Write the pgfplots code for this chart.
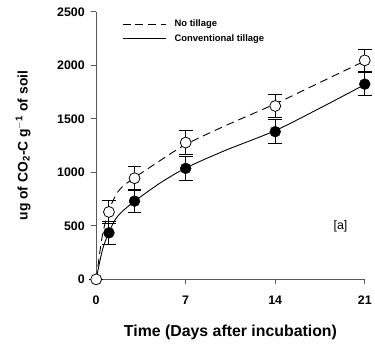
\documentclass[border=0pt]{standalone}
\usepackage{pgfplots}
\pgfplotsset{compat=1.18}
\usepackage{fontspec}
\setmainfont{Liberation Sans}
\begin{document}
\begin{tikzpicture}
\begin{axis}[
  scale only axis,
  width=271pt, height=270pt,
  xmin=0, xmax=21, ymin=0, ymax=2500,
  axis x line*=bottom, axis y line*=left,
  axis line style={gray!70!black, line width=0.9pt},
  xtick={0,7,14,21}, ytick={0,500,1000,1500,2000,2500},
  tick style={gray!70!black, line width=0.9pt},
  tick align=outside, major tick length=5pt,
  /pgf/number format/assume math mode=true,
  /pgf/number format/1000 sep={},
  ticklabel style={font=\bfseries\fontsize{12.5}{13}\selectfont},
  xticklabel style={yshift=-8pt},
  yticklabel style={xshift=-3pt},
  xlabel={\bfseries Time (Days after incubation)},
  ylabel={\bfseries ug of CO$_\mathbf{2}$-C g$^{\mathbf{-1}}$ of soil},
  xlabel style={font=\bfseries\fontsize{16}{17}\selectfont, yshift=-14pt},
  ylabel style={font=\bfseries\fontsize{14}{15}\selectfont, yshift=20pt},
  clip=false,
  legend style={draw=none, fill=none, at={(rel axis cs:0.085,0.985)}, anchor=north west,
    font=\bfseries\fontsize{9.5}{10}\selectfont, row sep=2pt,
    legend cell align=left},
  legend image post style={line width=0.9pt},
  legend image code/.code={\draw[#1] (0cm,0cm) -- (1.55cm,0cm);},
]
\path (rel axis cs:-0.358,-0.267) rectangle (rel axis cs:1.026,1.044);
% fitted curves
\addplot[black, line width=0.9pt, dash pattern=on 8pt off 5pt, smooth, tension=0.5] coordinates {
(0,0) (0.5,420) (1,640) (1.5,780) (2,860) (3,950) (5,1110) (7,1260) (10,1430) (14,1640) (17.5,1840) (21,2040)};
\addlegendentry{\hspace{6pt}No tillage}
\addplot[black, line width=0.9pt, smooth, tension=0.5] coordinates {
(0,0) (0.5,280) (1,440) (1.5,560) (2,630) (3,730) (5,900) (7,1040) (10,1200) (14,1390) (17.5,1600) (21,1820)};
\addlegendentry{\hspace{6pt}Conventional tillage}
% conventional tillage data
\addplot[only marks, mark=*, mark size=5.5pt, mark options={fill=black, draw=black},
  error bars/.cd, y dir=both, y explicit,
  error bar style={black, line width=1pt},
  error mark options={rotate=90, mark size=7pt, line width=1pt, black}]
  coordinates {
  (1,435) +- (0,110)
  (3,731) +- (0,107)
  (7,1037) +- (0,111)
  (14,1380) +- (0,112)
  (21,1824) +- (0,110)
};
% no tillage data
\addplot[only marks, mark=*, mark size=5.5pt, mark options={fill=white, draw=black, line width=0.8pt},
  error bars/.cd, y dir=both, y explicit,
  error bar style={black, line width=1pt},
  error mark options={rotate=90, mark size=7pt, line width=1pt, black}]
  coordinates {
  (0,0) +- (0,0)
  (1,630) +- (0,110)
  (3,945) +- (0,110)
  (7,1278) +- (0,115)
  (14,1620) +- (0,107)
  (21,2046) +- (0,102)
};
\node[font=\fontsize{12.5}{13}\selectfont] at (axis cs:19.1,500) {[a]};
\end{axis}
\end{tikzpicture}
\end{document}
